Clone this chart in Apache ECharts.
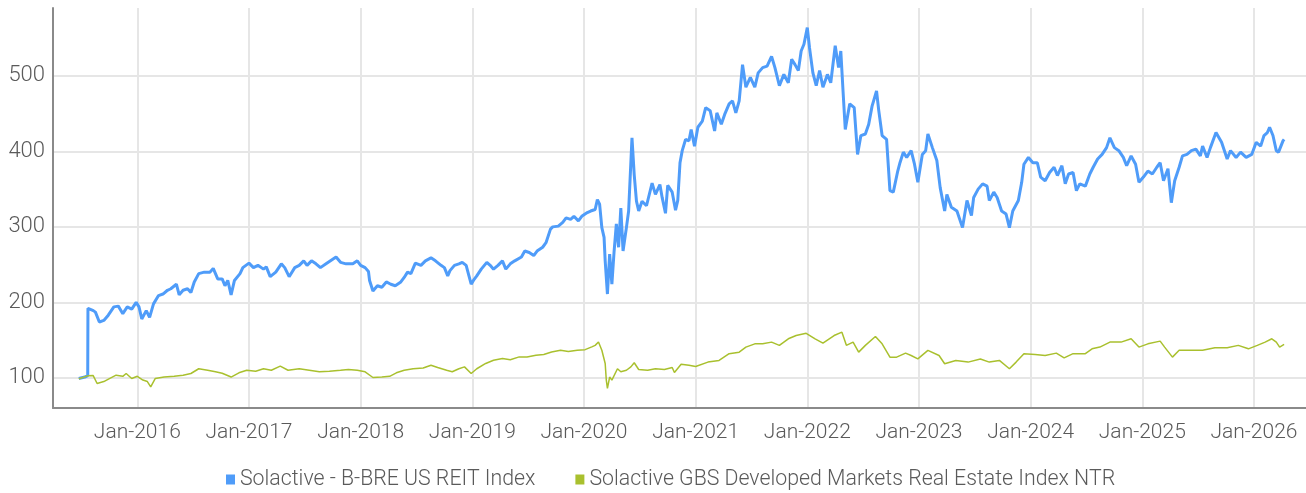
<!DOCTYPE html>
<html><head><meta charset="utf-8">
<script src="https://cdn.jsdelivr.net/npm/echarts@6/dist/echarts.min.js"></script>
<style>html,body{margin:0;padding:0;background:#fff}#c{width:1306px;height:493px}</style>
</head><body><div id="c"></div>
<script>
const yearTicks = [2016,2017,2018,2019,2020,2021,2022,2023,2024,2025,2026];
const valueTicks = [100,200,300,400,500];
const seriesNames = ['Solactive - B-BRE US REIT Index','Solactive GBS Developed Markets Real Estate Index NTR'];

const blueYears = [2015.476,2015.53,2015.556,2015.558,2015.606,2015.625,2015.66,2015.70,2015.74,2015.79,2015.83,2015.87,2015.91,2015.95,2015.99,
2016.015,2016.04,2016.08,2016.11,2016.145,2016.19,2016.23,2016.27,2016.30,2016.35,2016.375,2016.41,2016.45,2016.48,2016.51,2016.55,2016.60,2016.65,2016.68,2016.72,2016.76,2016.785,2016.81,2016.84,2016.87,2016.92,2016.945,
2017.0,2017.04,2017.08,2017.13,2017.155,2017.19,2017.24,2017.29,2017.32,2017.36,2017.41,2017.45,2017.49,2017.52,2017.56,2017.60,2017.64,2017.69,2017.73,2017.78,2017.82,2017.87,2017.93,2017.97,
2018.0,2018.04,2018.07,2018.08,2018.11,2018.15,2018.19,2018.23,2018.27,2018.31,2018.36,2018.39,2018.42,2018.45,2018.49,2018.54,2018.58,2018.63,2018.67,2018.72,2018.75,2018.78,2018.80,2018.84,2018.88,2018.91,2018.945,2018.97,2018.99,
2019.01,2019.04,2019.08,2019.13,2019.16,2019.19,2019.23,2019.27,2019.30,2019.34,2019.38,2019.44,2019.47,2019.51,2019.55,2019.58,2019.63,2019.66,2019.70,2019.72,2019.77,2019.81,2019.84,2019.88,2019.91,2019.95,2019.98,
2020.03,2020.06,2020.10,2020.12,2020.14,2020.16,2020.18,2020.19,2020.21,2020.23,2020.25,2020.27,2020.29,2020.31,2020.33,2020.35,2020.38,2020.40,2020.43,2020.45,2020.47,2020.49,2020.52,2020.56,2020.61,2020.64,2020.68,2020.70,2020.73,2020.75,2020.79,2020.82,2020.84,2020.86,2020.88,2020.91,2020.94,2020.96,2020.99,
2021.02,2021.06,2021.09,2021.13,2021.17,2021.19,2021.23,2021.26,2021.30,2021.33,2021.36,2021.39,2021.42,2021.45,2021.49,2021.53,2021.56,2021.60,2021.64,2021.68,2021.71,2021.75,2021.79,2021.83,2021.86,2021.89,2021.92,2021.945,2021.97,
2022.0,2022.02,2022.05,2022.08,2022.11,2022.14,2022.18,2022.21,2022.25,2022.28,2022.30,2022.32,2022.34,2022.38,2022.42,2022.45,2022.48,2022.52,2022.55,2022.58,2022.62,2022.64,2022.67,2022.71,2022.74,2022.77,2022.81,2022.83,2022.86,2022.89,2022.93,2022.96,2022.99,
2023.03,2023.06,2023.08,2023.12,2023.16,2023.19,2023.23,2023.25,2023.29,2023.34,2023.39,2023.43,2023.47,2023.49,2023.53,2023.57,2023.61,2023.63,2023.67,2023.70,2023.74,2023.78,2023.81,2023.84,2023.89,2023.92,2023.94,2023.98,
2024.02,2024.06,2024.09,2024.13,2024.17,2024.21,2024.24,2024.28,2024.31,2024.34,2024.38,2024.41,2024.44,2024.49,2024.53,2024.56,2024.60,2024.64,2024.68,2024.71,2024.75,2024.79,2024.83,2024.86,2024.90,2024.94,2024.97,
2025.01,2025.05,2025.09,2025.13,2025.16,2025.19,2025.23,2025.26,2025.29,2025.33,2025.36,2025.40,2025.44,2025.48,2025.52,2025.54,2025.58,2025.61,2025.66,2025.71,2025.76,2025.79,2025.84,2025.88,2025.93,2025.98,
2026.02,2026.06,2026.09,2026.12,2026.14,2026.17,2026.20,2026.22,2026.26,2026.27];
const blueValues = [99,101,103,192,189,187,174,176,183,194,195,185,194,191,200,
194,178,189,180,198,209,211,216,218,224,210,216,218,213,227,238,240,240,245,231,231,222,229,210,229,238,246,
252,246,249,244,247,234,240,251,246,234,246,249,255,249,255,251,246,251,255,260,253,251,251,255,
249,246,241,229,215,222,220,227,224,222,227,233,240,238,252,249,255,259,255,249,246,235,242,249,251,253,249,235,224,
229,235,244,253,249,244,249,255,244,251,255,260,268,266,262,268,273,279,297,300,301,306,312,310,314,308,314,
319,321,323,336,330,299,286,255,211,264,224,268,304,273,325,268,299,321,418,369,334,321,334,328,358,343,356,339,318,355,346,322,335,385,401,416,414,429,407,
432,440,458,454,427,451,436,449,463,467,451,467,515,485,498,485,504,511,513,526,511,487,502,491,522,515,507,533,542,
564,537,504,487,507,485,502,491,540,511,533,480,429,463,458,396,421,423,436,460,480,454,421,416,348,346,374,385,399,392,401,383,359,
396,401,423,405,388,352,321,343,326,321,299,335,315,339,350,357,354,335,346,339,321,317,299,321,335,359,383,392,
385,385,366,361,372,379,368,381,357,370,372,348,357,354,370,379,390,396,405,418,405,401,392,381,394,383,359,
366,374,370,379,385,361,377,332,361,379,394,396,401,403,394,407,392,405,425,412,390,401,392,399,392,396,
412,407,421,425,432,421,401,399,414,416];

const greenYears = [2015.476,2015.556,2015.605,2015.64,2015.70,2015.75,2015.81,2015.87,2015.90,2015.95,
2016.0,2016.05,2016.09,2016.12,2016.16,2016.24,2016.33,2016.41,2016.48,2016.55,2016.63,2016.70,2016.76,2016.84,2016.91,2016.98,
2017.06,2017.13,2017.20,2017.28,2017.35,2017.45,2017.54,2017.63,2017.72,2017.82,2017.89,2017.97,
2018.04,2018.11,2018.19,2018.26,2018.32,2018.39,2018.47,2018.56,2018.63,2018.69,2018.77,2018.82,2018.88,2018.93,2018.99,
2019.04,2019.12,2019.19,2019.27,2019.34,2019.42,2019.49,2019.57,2019.64,2019.71,2019.79,2019.86,2019.94,
2020.01,2020.07,2020.10,2020.13,2020.16,2020.19,2020.20,2020.21,2020.23,2020.25,2020.30,2020.33,2020.38,2020.42,2020.45,2020.49,2020.57,2020.64,2020.72,2020.79,2020.81,2020.87,2020.94,
2021.0,2021.11,2021.21,2021.30,2021.39,2021.45,2021.53,2021.60,2021.68,2021.75,2021.83,2021.90,2021.99,
2022.07,2022.14,2022.24,2022.31,2022.35,2022.41,2022.46,2022.52,2022.61,2022.67,2022.74,2022.80,2022.88,2022.93,2022.99,
2023.08,2023.18,2023.23,2023.33,2023.44,2023.55,2023.63,2023.72,2023.81,2023.87,2023.94,
2024.04,2024.13,2024.23,2024.30,2024.38,2024.49,2024.55,2024.62,2024.71,2024.81,2024.90,2024.97,
2025.05,2025.16,2025.20,2025.27,2025.33,2025.43,2025.54,2025.65,2025.76,2025.86,2025.95,
2026.03,2026.10,2026.16,2026.20,2026.23,2026.27];
const greenValues = [98.7,102.6,103,92.5,95,99,103.5,102,105.7,99,
102,97,95,88,99,101,102,103.5,105.7,112,110,108,106,101,106.6,110,
108.8,112,110,115.4,110,112,110,108,108.8,110,111,110,
108,100.4,101,102,106.6,110,112,113,116.7,113.6,110,108,112,114.5,105.7,
112,119,123.3,125.5,124,127.7,127.7,130,131,134.3,136.5,135,136.5,
137.3,141,143,147.5,136.5,119,97,86,101,97,112,108,110,114.5,120,111,110,112,111,113.6,107,118,116.5,
115,120.8,123,132,134,140.7,145,145,147.3,143,151.7,156,159,
151.7,146,156,160.5,143,147.3,134,143,154.8,145,127.4,127.4,132.7,129.6,125,
136.4,129.6,118.6,123,120.8,125,120.8,123,112,120.8,132,
131,129.6,132.7,126.5,132,132,138.4,140.7,147.3,147.3,151.7,140.7,
145,148.6,140.7,127.4,136.4,136.4,136.4,139.8,139.8,143,138.4,
143,147.3,151.7,147.3,140.7,144.2];

const FONT = "Roboto, 'Liberation Sans', sans-serif";
const TXT = '#5a5a5a';
const pair = (xs, ys) => xs.map((x, i) => [x, ys[i]]);

const chart = echarts.init(document.getElementById('c'), null, {renderer: 'canvas'});
chart.setOption({
  animation: false,
  backgroundColor: '#fff',
  grid: {left: 53, right: 0, top: 8, bottom: 85, containLabel: false},
  legend: {
    left: 221, top: 464, icon: 'rect', itemWidth: 9, itemHeight: 10, itemGap: 40,
    textStyle: {color: TXT, fontSize: 21.3, fontWeight: 300, fontFamily: FONT},
    data: seriesNames
  },
  xAxis: {
    type: 'value', min: 2015.245, max: 2026.466,
    axisLine: {show: true, onZero: false, lineStyle: {color: '#8a8a8a', width: 2}},
    axisTick: {show: false, customValues: yearTicks},
    axisLabel: {customValues: yearTicks, formatter: v => 'Jan-' + v, color: TXT, fontSize: 21, fontWeight: 300, fontFamily: FONT, margin: 14},
    splitLine: {show: true, lineStyle: {color: '#e6e6e6', width: 2}}
  },
  yAxis: {
    type: 'value', min: 60, max: 590,
    axisLine: {show: true, lineStyle: {color: '#8a8a8a', width: 2}},
    axisTick: {show: false, customValues: valueTicks},
    axisLabel: {customValues: valueTicks, color: TXT, fontSize: 22, fontWeight: 300, fontFamily: FONT, margin: 8},
    splitLine: {show: true, lineStyle: {color: '#e6e6e6', width: 2}}
  },
  series: [
    {name: seriesNames[0], type: 'line', data: pair(blueYears, blueValues), showSymbol: false, symbol: 'none',
     color: '#4f9cf9', lineStyle: {width: 3, color: '#4f9cf9'}, z: 2},
    {name: seriesNames[1], type: 'line', data: pair(greenYears, greenValues), showSymbol: false, symbol: 'none',
     color: '#a9c02e', lineStyle: {width: 1.5, color: '#a9c02e'}, z: 3}
  ]
});
</script></body></html>
